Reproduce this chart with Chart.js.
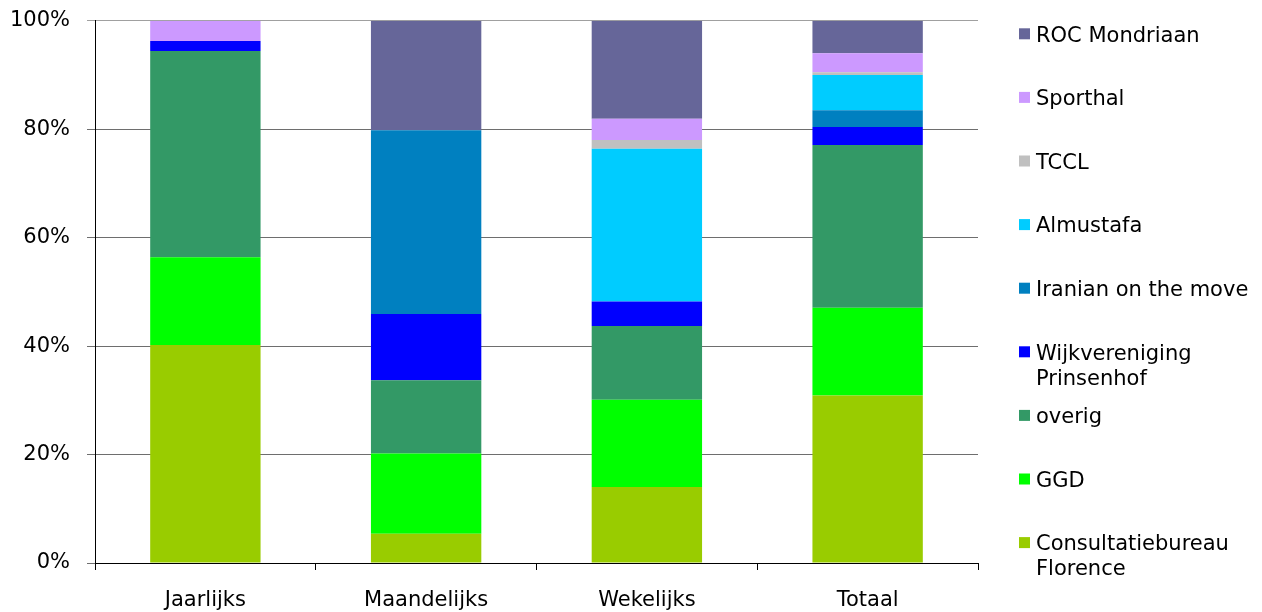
<!DOCTYPE html>
<html>
<head>
<meta charset="utf-8">
<script src="https://cdn.jsdelivr.net/npm/chart.js@4.4.1/dist/chart.umd.min.js"></script>
<style>
  html, body { margin: 0; padding: 0; background: #ffffff; }
  #wrap { width: 1262px; height: 612px; position: relative; }
</style>
</head>
<body>
<div id="wrap"><canvas id="c"></canvas></div>
<script>
// Categories (x axis)
const categories = ['Jaarlijks', 'Maandelijks', 'Wekelijks', 'Totaal'];

// Series names (bottom to top in the stack); '\n' marks a line break in the legend
const seriesNames = [
  'Consultatiebureau\nFlorence',
  'GGD',
  'overig',
  'Wijkvereniging\nPrinsenhof',
  'Iranian on the move',
  'Almustafa',
  'TCCL',
  'Sporthal',
  'ROC Mondriaan'
];

// Series colours (same order)
const seriesColors = [
  '#99CC00',
  '#00FF00',
  '#339966',
  '#0000FF',
  '#0080C0',
  '#00CCFF',
  '#C0C0C0',
  '#CC99FF',
  '#666699'
];

// Percentages per series, for Jaarlijks, Maandelijks, Wekelijks, Totaal
const consultatiebureau = [40.2, 5.4, 14.0, 30.9];
const ggd               = [16.2, 14.8, 16.1, 16.15];
const overig            = [38.0, 13.5, 13.6, 30.05];
const wijkvereniging    = [1.85, 12.2, 4.5, 3.3];
const iranian           = [0, 33.9, 0, 3.1];
const almustafa         = [0, 0, 28.2, 6.5];
const tccl              = [0, 0, 1.6, 0.5];
const sporthal          = [3.75, 0, 3.9, 3.5];
const rocMondriaan      = [0, 20.2, 18.1, 6.0];

const seriesValues = [consultatiebureau, ggd, overig, wijkvereniging, iranian, almustafa, tccl, sporthal, rocMondriaan];

// Y tick values
const yTicks = [0, 20, 40, 60, 80, 100];

const FONT = '"DejaVu Sans", Verdana, sans-serif';

const datasets = seriesNames.map((name, i) => ({
  label: name.replace('\n', ' '),
  legendLines: name.split('\n'),
  data: seriesValues[i],
  backgroundColor: seriesColors[i],
  borderWidth: 0,
  categoryPercentage: 0.5,
  barPercentage: 1.0
}));

const sideLegend = {
  id: 'sideLegend',
  afterDraw(chart) {
    const ctx = chart.ctx;
    const ds = chart.data.datasets;
    const n = ds.length;
    ctx.save();
    ctx.font = '21px ' + FONT;
    ctx.textAlign = 'left';
    ctx.textBaseline = 'alphabetic';
    for (let i = 0; i < n; i++) {
      const d = ds[n - 1 - i];
      const yc = 33.8 + i * 63.6;
      ctx.fillStyle = d.backgroundColor;
      ctx.fillRect(1019, yc - 5.5, 11, 11);
      ctx.fillStyle = '#000000';
      d.legendLines.forEach((line, k) => {
        ctx.fillText(line, 1036, yc + 7.8 + k * 25);
      });
    }
    ctx.restore();
  }
};

new Chart(document.getElementById('c'), {
  type: 'bar',
  data: { labels: categories, datasets },
  plugins: [sideLegend],
  options: {
    responsive: true,
    maintainAspectRatio: false,
    animation: false,
    layout: { padding: { top: 20.7, right: 284, left: 0, bottom: 0 } },
    plugins: {
      legend: { display: false },
      tooltip: { enabled: false }
    },
    scales: {
      x: {
        stacked: true,
        grid: {
          drawOnChartArea: false,
          drawTicks: true,
          tickLength: 7,
          color: '#000000',
          offset: true
        },
        border: { color: '#000000', width: 1 },
        ticks: {
          color: '#000000',
          font: { family: FONT, size: 21 },
          padding: 18,
          maxRotation: 0
        },
        afterFit(scale) { scale.height = 49; }
      },
      y: {
        stacked: true,
        min: 0,
        max: 100,
        afterBuildTicks(scale) { scale.ticks = yTicks.map(v => ({ value: v })); },
        grid: {
          color: (c) => (c.tick && c.tick.value === 100) ? '#A0A0A0' : '#6E6E6E',
          tickLength: 8,
          lineWidth: 1
        },
        border: { color: '#000000', width: 1 },
        ticks: {
          color: '#000000',
          font: { family: FONT, size: 21 },
          padding: 17,
          callback: (v) => v + '%'
        },
        afterFit(scale) { scale.width = 95; scale.paddingTop = 0; scale.paddingBottom = 0; }
      }
    }
  }
});
</script>
</body>
</html>
